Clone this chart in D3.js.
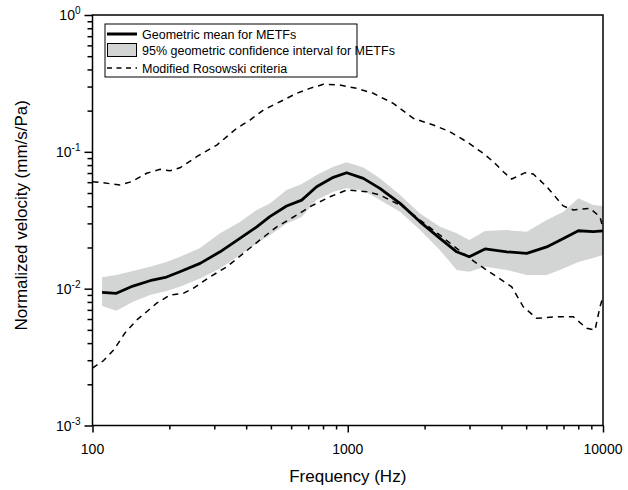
<!DOCTYPE html>
<html>
<head>
<meta charset="utf-8">
<script src="https://cdn.jsdelivr.net/npm/d3@7"></script>
<style>
  body { margin: 0; background: #fff; }
  text { font-family: "Liberation Sans", Arial, sans-serif; fill: #000; }
</style>
</head>
<body>
<div id="chart"></div>
<script>
//// data
var freq = [109, 124, 144, 168, 195, 220, 264, 316, 378, 440, 495, 576, 660, 755, 878, 990,
            1151, 1336, 1603, 1920, 2298, 2671, 2994, 3450, 4198, 5026, 6018, 6998, 8006, 9160, 10000];
var meanV = [0.0094, 0.00925, 0.01045, 0.01143, 0.01216, 0.0133, 0.0153, 0.0186, 0.0233, 0.0283, 0.0336,
             0.0402, 0.0444, 0.0556, 0.0651, 0.0703, 0.064, 0.0541, 0.042, 0.0308, 0.0233, 0.0186,
             0.0171, 0.0195, 0.0186, 0.0181, 0.0202, 0.0233, 0.0265, 0.0261, 0.0264];
var upperV = [0.0121, 0.01257, 0.01345, 0.01445, 0.01564, 0.0171, 0.0198, 0.0254, 0.0307, 0.0376, 0.042,
              0.0526, 0.0582, 0.0677, 0.0778, 0.0838, 0.0768, 0.064, 0.0483, 0.0355, 0.0283, 0.0254,
              0.0227, 0.0264, 0.0268, 0.0261, 0.0317, 0.0365, 0.0457, 0.0408, 0.0402];
var lowerV = [0.00746, 0.0069, 0.00802, 0.00898, 0.00961, 0.01032, 0.01189, 0.01407, 0.0176, 0.0214, 0.0246,
              0.03, 0.0334, 0.0444, 0.0511, 0.0541, 0.0521, 0.0444, 0.0365, 0.0268, 0.0191, 0.01368,
              0.01329, 0.01445, 0.01368, 0.01257, 0.01257, 0.01407, 0.01564, 0.01674, 0.0176];

var rosHiF = [100, 110, 128, 142, 163, 184, 201, 220, 256, 307, 367, 414, 467, 543, 631, 711, 802, 932, 1084,
              1259, 1508, 1806, 2164, 2515, 2924, 3396, 3717, 4068, 4389, 4948, 5333, 6018, 6990, 7650, 8893, 9731, 10000];
var rosHiV = [0.0605, 0.0594, 0.0572, 0.0605, 0.0697, 0.0745, 0.0727, 0.0765, 0.0921, 0.1121, 0.1485, 0.1708,
              0.202, 0.2324, 0.2677, 0.2911, 0.3113, 0.3077, 0.2911, 0.2677, 0.2262, 0.1758, 0.157, 0.1402,
              0.1185, 0.0975, 0.0847, 0.0715, 0.0633, 0.0704, 0.0688, 0.0556, 0.0402, 0.0376, 0.0386, 0.0335, 0.0277];
var rosLoF = [100, 110, 121, 134, 149, 163, 178, 201, 227, 248, 289, 336, 390, 453, 527, 631, 711, 852, 991,
              1187, 1338, 1651, 1919, 2298, 2672, 3201, 3833, 4389, 4872, 5498, 6586, 7650, 8634, 9305, 9731, 10000];
var rosLoV = [0.00263, 0.00296, 0.00356, 0.00474, 0.0059, 0.00678, 0.00781, 0.00898, 0.00924, 0.01005, 0.01222,
              0.01445, 0.0181, 0.0227, 0.0283, 0.0345, 0.0397, 0.047, 0.0526, 0.0511, 0.0483, 0.0397, 0.0317,
              0.0246, 0.0197, 0.0153, 0.01222, 0.01032, 0.00737, 0.00607, 0.00623, 0.00623, 0.00513, 0.00498,
              0.00737, 0.00873];

var xMajor = [100, 1000, 10000];
var yMajor = [1e-3, 1e-2, 1e-1, 1];
var yLabels = ["-3", "-2", "-1", "0"];
var legendLabels = ["Geometric mean for METFs",
                    "95% geometric confidence interval for METFs",
                    "Modified Rosowski criteria"];

//// chart
var W = 628, H = 490;
var margin = {top: 15, right: 25, bottom: 64.5, left: 92.5},
    width = W - margin.left - margin.right,
    height = H - margin.top - margin.bottom;

var svg = d3.select("#chart").append("svg")
    .attr("width", W)
    .attr("height", H)
  .append("g")
    .attr("transform", "translate(" + margin.left + "," + margin.top + ")");

var x = d3.scaleLog().domain([100, 10000]).range([0, width]);
var y = d3.scaleLog().domain([1e-3, 1]).range([height, 0]);

var minorX = [], minorY = [];
[100, 1000].forEach(function(d) { for (var k = 2; k < 10; k++) minorX.push(d * k); });
[1e-3, 1e-2, 1e-1].forEach(function(d) { for (var k = 2; k < 10; k++) minorY.push(d * k); });

var mean = freq.map(function(f, i) { return {f: f, v: meanV[i], lo: lowerV[i], hi: upperV[i]}; });
var rosHi = rosHiF.map(function(f, i) { return {f: f, v: rosHiV[i]}; });
var rosLo = rosLoF.map(function(f, i) { return {f: f, v: rosLoV[i]}; });

//// band
svg.append("path")
    .datum(mean)
    .attr("fill", "#d3d4d4")
    .attr("d", d3.area()
        .x(function(d) { return x(d.f); })
        .y0(function(d) { return y(d.lo); })
        .y1(function(d) { return y(d.hi); }));

var line = d3.line()
    .x(function(d) { return x(d.f); })
    .y(function(d) { return y(d.v); });

[rosHi, rosLo].forEach(function(s) {
  svg.append("path")
      .datum(s)
      .attr("fill", "none")
      .attr("stroke", "#000")
      .attr("stroke-width", 1.5)
      .attr("stroke-dasharray", "6,5")
      .attr("d", line);
});

svg.append("path")
    .datum(mean)
    .attr("fill", "none")
    .attr("stroke", "#000")
    .attr("stroke-width", 2.8)
    .attr("stroke-linejoin", "round")
    .attr("d", line);

//// axes
function styleAxis(g) {
  g.selectAll("path, line").attr("stroke", "#000").attr("stroke-width", 1.5);
  g.select(".domain").remove();
}

svg.append("g").call(d3.axisLeft(y).tickValues(yMajor).tickSize(8).tickFormat("")).call(styleAxis);
svg.append("g").call(d3.axisLeft(y).tickValues(minorY).tickSize(5).tickFormat("")).call(styleAxis);
svg.append("g").attr("transform", "translate(0," + height + ")")
    .call(d3.axisBottom(x).tickValues(xMajor).tickSize(7).tickFormat("")).call(styleAxis);
svg.append("g").attr("transform", "translate(0," + height + ")")
    .call(d3.axisBottom(x).tickValues(minorX).tickSize(4).tickFormat("")).call(styleAxis);

svg.append("rect")
    .attr("width", width).attr("height", height)
    .attr("fill", "none").attr("stroke", "#000").attr("stroke-width", 1.5);

// y tick labels with superscripts
yMajor.forEach(function(d, i) {
  var t = svg.append("text")
      .attr("x", -12)
      .attr("y", y(d) + 5)
      .attr("text-anchor", "end")
      .style("font-size", "14px");
  t.append("tspan").text("10");
  t.append("tspan").attr("dy", -6).style("font-size", "10px").text(yLabels[i]);
});

xMajor.forEach(function(d) {
  svg.append("text")
      .attr("x", x(d))
      .attr("y", height + 28)
      .attr("text-anchor", "middle")
      .style("font-size", "14px")
      .text(d);
});

svg.append("text")
    .attr("x", width / 2)
    .attr("y", height + 56)
    .attr("text-anchor", "middle")
    .style("font-size", "17px")
    .text("Frequency (Hz)");

svg.append("text")
    .attr("transform", "translate(" + (-66) + "," + (height / 2 - 5) + ") rotate(-90)")
    .attr("text-anchor", "middle")
    .style("font-size", "17px")
    .text("Normalized velocity (mm/s/Pa)");

//// legend
var lg = svg.append("g").attr("transform", "translate(" + (105 - margin.left) + "," + (24 - margin.top) + ")");
lg.append("rect")
    .attr("width", 252).attr("height", 53)
    .attr("fill", "#fff").attr("stroke", "#000").attr("stroke-width", 1);

lg.append("line").attr("x1", 2).attr("x2", 32).attr("y1", 10).attr("y2", 10)
    .attr("stroke", "#000").attr("stroke-width", 3);
lg.append("rect").attr("x", 2.5).attr("y", 19.5).attr("width", 29).attr("height", 13)
    .attr("fill", "#d3d4d4").attr("stroke", "#000").attr("stroke-width", 1);
lg.append("line").attr("x1", 2).attr("x2", 32).attr("y1", 44).attr("y2", 44)
    .attr("stroke", "#000").attr("stroke-width", 1.5).attr("stroke-dasharray", "5,4.5");

legendLabels.forEach(function(s, i) {
  lg.append("text")
      .attr("x", 37)
      .attr("y", [14.5, 31, 48.5][i])
      .style("font-size", "12.5px")
      .text(s);
});
</script>
</body>
</html>
